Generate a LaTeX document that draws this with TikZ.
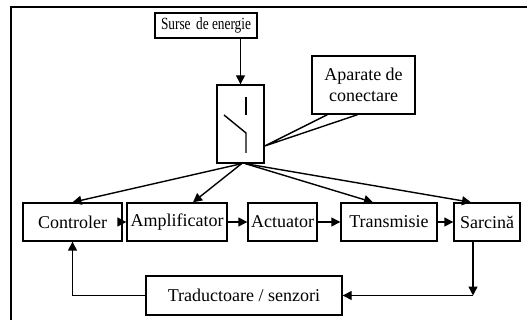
\documentclass[tikz,border=0pt]{standalone}
\usepackage{fontspec}
\setmainfont{Liberation Serif}
\usepackage{tikz}
\usetikzlibrary{arrows.meta}
\tikzset{
  blockbox/.style  = {draw, line width=1.4pt, inner sep=0pt,
                      font=\fontsize{18}{20.5}\selectfont, align=center},
  sigar/.style     = {-{Triangle[length=9pt,width=9pt]}, line width=1.4pt},
  plainline/.style = {line width=1.4pt}
}

\begin{document}
\begin{tikzpicture}[x=1pt, y=-1pt]
  \useasboundingbox (0,0) rectangle (527,320);
  \begin{scope}
    \clip (0,0) rectangle (527,320);
    \draw[line width=2.4pt] (11,7) rectangle (560,360);
  \end{scope}
  \node[blockbox, minimum width=102pt, minimum height=25pt] (surse) at (206,25.5)
       {\scalebox{0.74}[0.95]{Surse\, de energie}};
  \node[blockbox, minimum width=47pt, minimum height=78pt] (sw) at (240.5,124) {};
  \node[blockbox, minimum width=103pt, minimum height=58pt] (apar) at (363.5,85) {Aparate de\\conectare};
  \node[blockbox, minimum width=99pt, minimum height=38pt] (ctrl) at (72.5,222) {Controler};
  \node[blockbox, minimum width=100pt, minimum height=38pt] (ampl) at (177,222) {Amplificator};
  \node[blockbox, minimum width=69pt, minimum height=38pt] (act) at (282.5,222) {Actuator};
  \node[blockbox, minimum width=96pt, minimum height=38pt] (trans) at (389,222) {Transmisie};
  \node[blockbox, minimum width=66pt, minimum height=38pt] (sarc) at (487,222) {Sarcină};
  \node[blockbox, minimum width=196pt, minimum height=39pt] (trad) at (244,295.5) {Traductoare / senzori};
  % switch symbol
  \draw[plainline] (246,97) -- (246,115);
  \draw[plainline] (224,115) -- (246,133) -- (246,153);
  % callout pointer
  \draw[plainline] (apar.south west) ++(16,0) -- (sw.east |- 0,146) -- ([xshift=-6pt]apar.south);
  % power distribution
  \draw[sigar] (surse.south -| sw.north) -- (sw.north);
  \draw[sigar] ([xshift=1pt]sw.south) -- (ctrl.north);
  \draw[sigar] ([xshift=1pt]sw.south) -- ([xshift=16pt]ampl.north);
  \draw[sigar] ([xshift=5pt]sw.south) -- ([xshift=-16pt]trans.north);
  \draw[sigar] ([xshift=5pt]sw.south) -- ([xshift=-16pt]sarc.north);
  % forward chain
  \draw[sigar] (ctrl) -- (ampl);
  \draw[sigar] (ampl) -- (act);
  \draw[sigar] (act) -- (trans);
  \draw[sigar] (trans) -- (sarc);
  % feedback
  \coordinate (fb) at ([xshift=-14pt]sarc.south |- trad.east);
  \draw[sigar] ([xshift=-14pt]sarc.south) -- (fb);
  \draw[sigar] (fb) -- (trad.east);
  \draw[sigar] (trad.west) -| (ctrl.south);
\end{tikzpicture}
\end{document}
